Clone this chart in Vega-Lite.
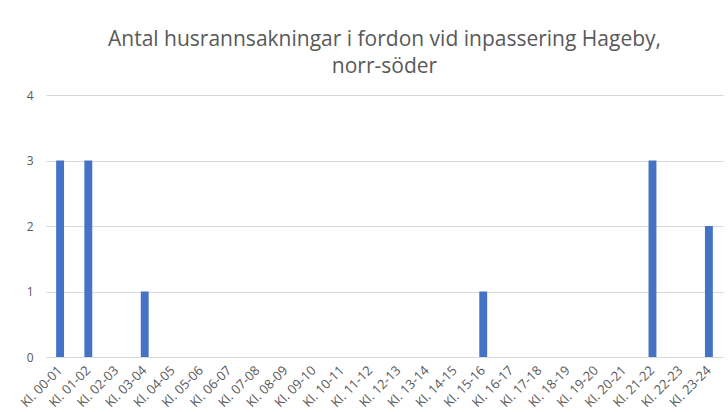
{
  "$schema": "https://vega.github.io/schema/vega-lite/v6.json",
  "width": 677,
  "height": 262,
  "autosize": {"type": "none"},
  "padding": {"left": 46, "top": 95, "right": 5, "bottom": 55},
  "background": "white",
  "title": {
    "text": ["Antal husrannsakningar i fordon vid inpassering Hageby,", "norr-söder"],
    "font": "Open Sans",
    "fontSize": 21,
    "fontWeight": "normal",
    "color": "#595959",
    "lineHeight": 27,
    "anchor": "middle",
    "offset": 12
  },
  "data": {
    "values": [
      {"tid": "Kl. 00-01", "antal": 3},
      {"tid": "Kl. 01-02", "antal": 3},
      {"tid": "Kl. 02-03", "antal": 0},
      {"tid": "Kl. 03-04", "antal": 1},
      {"tid": "Kl. 04-05", "antal": 0},
      {"tid": "Kl. 05-06", "antal": 0},
      {"tid": "Kl. 06-07", "antal": 0},
      {"tid": "Kl. 07-08", "antal": 0},
      {"tid": "Kl. 08-09", "antal": 0},
      {"tid": "Kl. 09-10", "antal": 0},
      {"tid": "Kl. 10-11", "antal": 0},
      {"tid": "Kl. 11-12", "antal": 0},
      {"tid": "Kl. 12-13", "antal": 0},
      {"tid": "Kl. 13-14", "antal": 0},
      {"tid": "Kl. 14-15", "antal": 0},
      {"tid": "Kl. 15-16", "antal": 1},
      {"tid": "Kl. 16-17", "antal": 0},
      {"tid": "Kl. 17-18", "antal": 0},
      {"tid": "Kl. 18-19", "antal": 0},
      {"tid": "Kl. 19-20", "antal": 0},
      {"tid": "Kl. 20-21", "antal": 0},
      {"tid": "Kl. 21-22", "antal": 3},
      {"tid": "Kl. 22-23", "antal": 0},
      {"tid": "Kl. 23-24", "antal": 2}
    ]
  },
  "mark": {"type": "bar", "color": "#4472C4"},
  "encoding": {
    "x": {
      "field": "tid",
      "type": "nominal",
      "sort": null,
      "title": null,
      "scale": {"paddingInner": 0.72, "paddingOuter": 0.36},
      "axis": {
        "labelAngle": -45,
        "labelAlign": "right",
        "labelBaseline": "middle",
        "labelPadding": 11,
        "labelFont": "Open Sans",
        "labelFontSize": 13,
        "labelColor": "#595959",
        "ticks": false,
        "domainColor": "#d9d9d9",
        "grid": false
      }
    },
    "y": {
      "field": "antal",
      "type": "quantitative",
      "title": null,
      "scale": {"domain": [0, 4]},
      "axis": {
        "values": [0, 1, 2, 3, 4],
        "labelFont": "Open Sans",
        "labelFontSize": 12,
        "labelColor": "#595959",
        "labelPadding": 13,
        "ticks": false,
        "domain": false,
        "gridColor": "#d9d9d9"
      }
    }
  },
  "config": {"view": {"stroke": null}}
}
